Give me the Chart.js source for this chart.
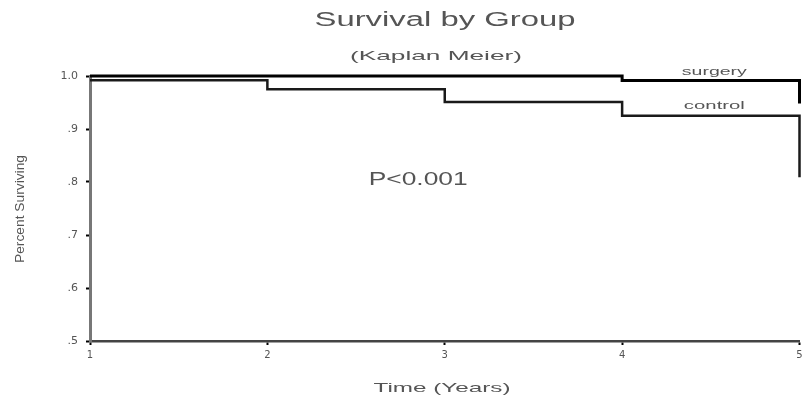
<!DOCTYPE html>
<html>
<head>
<meta charset="utf-8">
<title>Survival by Group</title>
<script src="https://cdn.jsdelivr.net/npm/chart.js@4/dist/chart.umd.min.js"></script>
<style>
    body { margin: 0; background: #fff; }
    #wrap { width: 802px; height: 400px; }
</style>
</head>
<body>
<div id="wrap"><canvas id="survival-chart" width="802" height="400"></canvas></div>
<script>
// follow-up times (years) and Kaplan-Meier estimates at each time
var years = [1, 2, 3, 4, 5];
var surgery = [1.0, 1.0, 1.0, 0.9915, 0.948];
var control = [0.992, 0.975, 0.951, 0.925, 0.809];

var yTicks = [0.5, 0.6, 0.7, 0.8, 0.9, 1.0];
var yTickLabels = ['.5', '.6', '.7', '.8', '.9', '1.0'];

// text placed inside the plot, in data units
var notes = [
    { text: 'surgery', x: 4.52, y: 1.0075, size: 10, width: 65 },
    { text: 'control', x: 4.52, y: 0.942, size: 10, width: 61 },
    { text: 'P<0.001', x: 2.85, y: 0.804, size: 19, width: 99 }
];

var textColor = '#555';

function stretchText(c, text, cx, cy, width, font, angle) {
    c.save();
    c.font = font;
    c.fillStyle = textColor;
    c.textAlign = 'center';
    c.textBaseline = 'middle';
    var w = c.measureText(text).width;
    c.translate(cx, cy);
    if (angle) c.rotate(angle);
    c.scale(width / w, 1);
    c.fillText(text, 0, 0);
    c.restore();
}

var textPlugin = {
    id: 'kmText',
    afterDraw: function (chart) {
        var c = chart.ctx;
        var xs = chart.scales.x, ys = chart.scales.y;
        stretchText(c, 'Survival by Group', 445, 20, 261, '20px "Liberation Sans"');
        stretchText(c, '(Kaplan Meier)', 436, 56, 172, '13px "Liberation Sans"');
        stretchText(c, 'Time (Years)', 442, 388, 137, '13px "Liberation Sans"');
        stretchText(c, 'Percent Surviving', 21, 209, 108, '12px "Liberation Sans"', -Math.PI / 2);
        notes.forEach(function (n) {
            stretchText(c, n.text, xs.getPixelForValue(n.x), ys.getPixelForValue(n.y),
                n.width, n.size + 'px "Liberation Sans"');
        });
    }
};

var ctx = document.getElementById('survival-chart').getContext('2d');
var chart = new Chart(ctx, {
    type: 'line',
    data: {
        datasets: [{
            label: 'surgery',
            data: years.map(function (t, i) { return { x: t, y: surgery[i] }; }),
            borderColor: '#000',
            borderWidth: 3,
            stepped: 'before',
            pointRadius: 0,
            clip: false
        }, {
            label: 'control',
            data: years.map(function (t, i) { return { x: t, y: control[i] }; }),
            borderColor: '#1a1a1a',
            borderWidth: 2.5,
            stepped: 'before',
            pointRadius: 0,
            clip: false
        }]
    },
    options: {
        responsive: false,
        animation: false,
        layout: { padding: { top: 76, right: 2.5, left: 0, bottom: 0 } },
        plugins: {
            legend: { display: false },
            tooltip: { enabled: false }
        },
        scales: {
            x: {
                type: 'linear',
                min: 1,
                max: 5,
                ticks: {
                    stepSize: 1,
                    padding: 4,
                    color: textColor,
                    font: { family: 'DejaVu Sans', size: 10 }
                },
                grid: { drawOnChartArea: false, tickLength: 4, tickColor: '#000', tickWidth: 2 },
                border: { color: '#444', width: 2.5 },
                afterFit: function (scale) {
                    scale.height = 59;
                    scale.paddingLeft = 0;
                    scale.paddingRight = 0;
                }
            },
            y: {
                min: 0.5,
                max: 1.0,
                afterBuildTicks: function (scale) {
                    scale.ticks = yTicks.map(function (v) { return { value: v }; });
                },
                ticks: {
                    padding: 8,
                    color: textColor,
                    font: { family: 'DejaVu Sans', size: 11 },
                    callback: function (value) {
                        var i = yTicks.indexOf(value);
                        return i >= 0 ? yTickLabels[i] : '';
                    }
                },
                grid: { drawOnChartArea: false, tickLength: 4, tickColor: '#000', tickWidth: 2 },
                border: { color: '#777', width: 3 },
                afterFit: function (scale) {
                    scale.width = 90;
                    scale.paddingTop = 0;
                    scale.paddingBottom = 0;
                }
            }
        }
    },
    plugins: [textPlugin]
});
</script>
</body>
</html>
